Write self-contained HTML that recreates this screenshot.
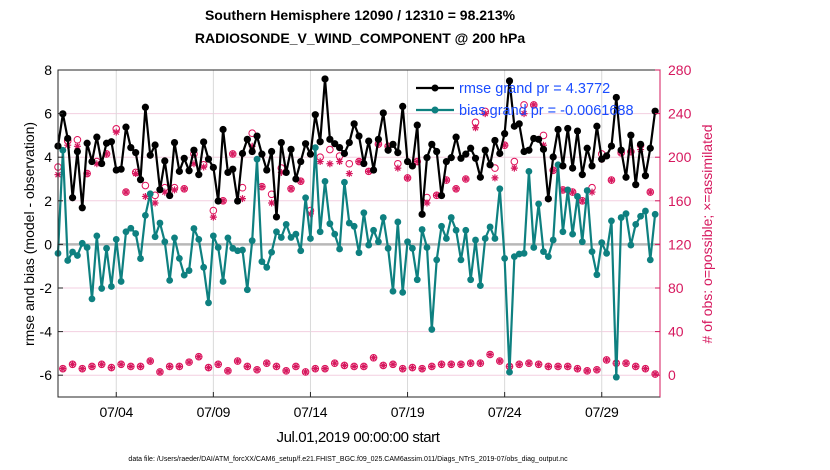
<!DOCTYPE html>
<html><head><meta charset="utf-8"><style>
body{margin:0;background:#fff;}
svg{display:block;font-family:"Liberation Sans",Arial,sans-serif;}
</style></head><body>
<svg id="chart" width="830" height="470" viewBox="0 0 830 470">
<text x="360" y="20" text-anchor="middle" font-size="14" font-weight="bold">Southern Hemisphere 12090 / 12310 = 98.213%</text>
<text x="360" y="43" text-anchor="middle" font-size="14" font-weight="bold">RADIOSONDE_V_WIND_COMPONENT @ 200 hPa</text>
<g id="grid"></g>
<g id="marks"></g>
<rect x="58" y="70" width="602" height="327" fill="none" stroke="#262626" stroke-width="1"/>
<g id="axes"></g>
<text transform="translate(34,234) rotate(-90)" text-anchor="middle" font-size="14">rmse and bias (model - observation)</text>
<text transform="translate(712,234) rotate(-90)" text-anchor="middle" font-size="14" fill="#d6185e"># of obs: o=possible; ×=assimilated</text>
<text x="358" y="442" text-anchor="middle" font-size="15" letter-spacing="-0.4">Jul.01,2019 00:00:00 start</text>
<text x="348" y="461" text-anchor="middle" font-size="7">data file: /Users/raeder/DAI/ATM_forcXX/CAM6_setup/f.e21.FHIST_BGC.f09_025.CAM6assim.011/Diags_NTrS_2019-07/obs_diag_output.nc</text>
<g id="legend"></g>
</svg>
<script>
const xTickDays=[3,8,13,18,23,28];
const xTickLabels=["07/04","07/09","07/14","07/19","07/24","07/29"];
const leftTicks=[-6,-4,-2,0,2,4,6,8];
const rightTicks=[0,40,80,120,160,200,240,280];
const rmse=[4.51,5.99,4.86,2.14,4.26,1.68,4.64,3.80,4.92,3.71,4.64,4.71,3.41,3.45,5.38,4.44,4.21,2.97,6.29,4.09,4.56,2.51,3.83,2.24,4.67,3.35,3.95,3.38,4.32,3.20,4.70,3.91,3.53,
1.99,5.27,3.30,3.45,1.99,4.17,4.82,4.26,4.97,4.14,3.41,4.26,1.26,4.67,3.30,4.36,3.00,3.80,4.62,4.14,5.95,4.71,7.59,4.82,4.62,4.44,4.17,4.67,5.53,4.97,3.71,
4.74,3.41,4.82,6.03,4.32,4.59,4.21,6.33,3.80,3.60,5.47,1.38,3.98,4.59,4.26,2.24,3.80,3.98,4.92,3.95,4.14,4.41,3.95,3.08,4.32,3.65,4.77,4.17,5.08,7.5,5.42,
5.53,4.26,4.32,4.86,4.82,4.36,2.09,4.01,5.27,3.60,5.32,3.50,5.20,3.20,4.41,3.60,5.42,3.91,4.06,4.51,6.74,4.32,3.08,5.01,2.74,4.59,3.15,4.41,6.11];
const bias=[-0.41,4.32,-0.74,-0.35,-0.51,0.05,-0.14,-2.50,0.39,-2.02,-0.18,-1.93,0.23,-1.70,0.58,0.74,0.50,-0.65,1.33,2.32,0.35,0.98,0.12,-1.65,0.30,-0.64,-1.41,-1.20,0.73,0.23,-1.05,-2.68,0.39,
-0.14,-1.70,0.30,-0.18,-0.29,-0.26,-2.08,0.17,3.91,-0.79,-1.05,-0.36,0.58,0.32,0.92,0.32,0.47,-0.29,2.14,0.27,4.44,0.58,2.89,0.95,0.47,-0.21,2.85,0.98,0.83,-0.38,1.45,
-0.03,0.65,0.12,1.23,-0.18,-2.15,1.03,-2.20,0.12,-0.18,-1.62,0.68,-0.14,-3.90,-0.71,0.83,0.27,1.23,0.65,-0.71,0.65,-1.62,0.20,-1.89,0.27,0.80,0.27,2.55,-0.64,-5.86,-0.56,
-0.44,-0.41,3.35,-0.14,1.86,-0.33,-0.56,0.20,3.65,0.58,2.50,0.47,2.20,0.12,2.47,-0.33,-1.39,0.08,-0.41,1.08,-6.09,1.23,1.41,-0.03,0.92,1.29,1.53,-0.71,1.38];
// observation counts at 00Z/12Z (even steps) and 06Z/18Z (odd steps)
const possibleMain=[191,215,216,185,196,203,226,168,186,174,165,172,172,171,203,193,151,160,203,172,222,173,166,190,171,178,151,200,207,201,194,196,187,212,210,194,181,196,163,165,179,171,180,232,242,190,211,196,248,248,220,188,170,168,160,172,203,179,204,205,211,168];
const assimMain=[184,211,210,185,194,203,223,168,185,164,158,168,170,171,194,191,145,160,203,162,210,173,158,186,171,178,148,196,194,196,185,196,187,212,210,190,181,196,158,165,179,171,180,227,240,181,211,190,240,248,211,188,170,168,160,168,198,179,204,205,207,168];
const possibleOff=[6,10,6,8,10,7,10,8,8,13,3,8,8,12,17,7,10,4,13,8,5,11,8,4,8,3,6,6,11,9,8,8,16,9,10,6,7,6,8,10,10,10,11,11,19,13,8,10,11,10,8,8,8,6,4,5,14,11,11,8,6,1];
const assimOff=[6,10,6,8,10,7,10,8,8,13,3,8,8,12,17,7,10,4,13,8,5,11,8,4,8,3,6,6,11,9,8,8,16,9,10,6,7,6,8,10,10,10,11,11,19,13,8,10,11,10,8,8,8,6,4,5,14,11,11,8,6,1];

const X0=58,X1=660,Y0=70,Y1=397;
const sx=d=>X0+(d/31)*(X1-X0);
const sy=v=>Y1-(v+7)/15*(Y1-Y0);
const sr=c=>Y1-(c+20)/300*(Y1-Y0);
const NS="http://www.w3.org/2000/svg";
function mk(tag,attrs,parent){const e=document.createElementNS(NS,tag);for(const k in attrs)e.setAttribute(k,attrs[k]);parent.appendChild(e);return e;}
const grid=document.getElementById('grid'),marks=document.getElementById('marks'),axes=document.getElementById('axes'),legend=document.getElementById('legend');

rightTicks.forEach(t=>{const l=mk('line',{x1:X0,x2:X1,y1:sr(t),y2:sr(t),stroke:'#f3cfe0','stroke-width':1},grid);

});
xTickDays.forEach(d=>{const l=mk('line',{x1:sx(d),x2:sx(d),y1:Y0,y2:Y1,stroke:'#d9d9d9','stroke-width':1},grid);

});
const zl=mk('line',{x1:X0,x2:X1,y1:sy(0),y2:sy(0),stroke:'#b8b8b8','stroke-width':2.5},grid);



// obs counts
const times=rmse.map((_,i)=>i*0.25);
function drawObs(arrP,arrA,start){
 arrP.forEach((c,k)=>{const i=start+2*k;const x=sx(times[i]);
  const o=mk('circle',{cx:x,cy:sr(c),r:3.3,fill:'none',stroke:'#e0105a','stroke-width':1},marks);
  
  
  const a=arrA[k];const y=sr(a);
  const g=mk('path',{d:`M${x-3.5},${y}H${x+3.5}M${x},${y-3.5}V${y+3.5}M${x-2.5},${y-2.5}L${x+2.5},${y+2.5}M${x-2.5},${y+2.5}L${x+2.5},${y-2.5}`,stroke:'#d6185e','stroke-width':1.2,fill:'none'},marks);
  
  
 });
}
drawObs(possibleMain,assimMain,0);
drawObs(possibleOff,assimOff,1);

function series(vals,color,name,star){
 const d=vals.map((v,i)=>(i?'L':'M')+sx(times[i]).toFixed(1)+','+sy(v).toFixed(1)).join('');
 const p=mk('path',{d:d,stroke:color,'stroke-width':2.2,fill:'none','stroke-linejoin':'round'},marks);
 
 
 vals.forEach((v,i)=>{const c=mk('circle',{cx:sx(times[i]),cy:sy(v),r:star?3.6:3.4,fill:color},marks);
  
  });
}
series(bias,'#0e8080','bias',false);
series(rmse,'#000000','rmse',true);

leftTicks.forEach(t=>{const y=sy(t);
 mk('line',{x1:X0,x2:X0+5,y1:y,y2:y,stroke:'#262626'},axes);
 const tx=mk('text',{x:X0-6,y:y+5,'text-anchor':'end','font-size':14},axes);tx.textContent=t;
 
 });
const ra=mk('line',{x1:X1,x2:X1,y1:Y0,y2:Y1,stroke:'#d6185e','stroke-width':1},axes);


rightTicks.forEach(t=>{const y=sr(t);
 mk('line',{x1:X1-5,x2:X1,y1:y,y2:y,stroke:'#d6185e'},axes);
 const tx=mk('text',{x:X1+8,y:y+5,'font-size':14,fill:'#d6185e'},axes);tx.textContent=t;
 
 });
xTickDays.forEach((d,k)=>{const x=sx(d);
 mk('line',{x1:x,x2:x,y1:Y1,y2:Y1-5,stroke:'#262626'},axes);
 const tx=mk('text',{x:x,y:Y1+20,'text-anchor':'middle','font-size':14,'letter-spacing':'-0.3'},axes);tx.textContent=xTickLabels[k];
 
 });

[['rmse grand pr = 4.3772','#000',88,'legend-rmse'],['bias grand pr = -0.0061688','#0e8080',110,'legend-bias']].forEach(e=>{
 const g=mk('g',{},legend);
 
 
 mk('line',{x1:416,x2:454,y1:e[2],y2:e[2],stroke:e[1],'stroke-width':2.2},g);
 mk('circle',{cx:435,cy:e[2],r:3.5,fill:e[1]},g);
 const t=mk('text',{x:459,y:e[2]+5,'font-size':14.5,fill:'#1a4cff'},g);t.textContent=e[0];
});
</script>
</body></html>
